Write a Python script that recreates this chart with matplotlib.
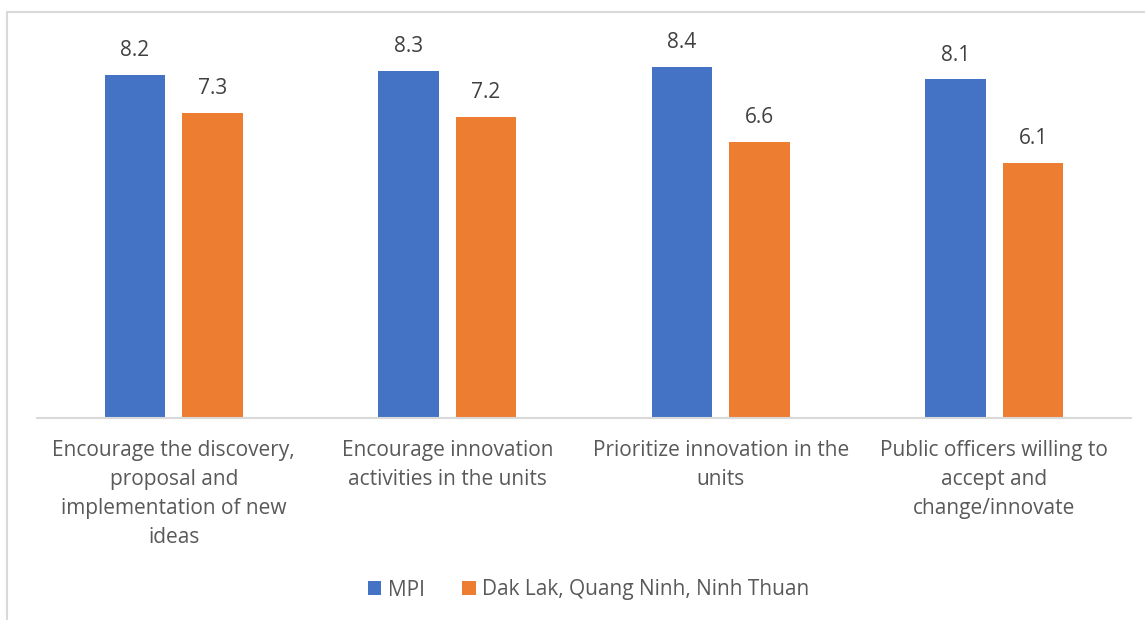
import matplotlib.pyplot as plt
import matplotlib.patches as patches
import numpy as np

# data
categories = ['Encourage the discovery,\nproposal and\nimplementation of new\nideas',
              'Encourage innovation\nactivities in the units',
              'Prioritize innovation in the\nunits',
              'Public officers willing to\naccept and\nchange/innovate']
mpi = [8.2, 8.3, 8.4, 8.1]
provinces = [7.3, 7.2, 6.6, 6.1]
series_names = ['MPI', 'Dak Lak, Quang Ninh, Ninh Thuan']

plt.rcParams['font.family'] = ['Open Sans', 'DejaVu Sans']
txt = '#595959'

fig = plt.figure(figsize=(11.45, 6.2), dpi=100)
ax = fig.add_axes([37/1145, 1-418/620, (1131-37)/1145, 418/620])

x = np.arange(len(categories))
w = 0.222
b1 = ax.bar(x - 0.142, mpi, w, color='#4472C4', label=series_names[0])
b2 = ax.bar(x + 0.142, provinces, w, color='#ED7D31', label=series_names[1])

for bars, vals in ((b1, mpi), (b2, provinces)):
    for r, v in zip(bars, vals):
        ax.annotate(f'{v:.1f}', (r.get_x() + r.get_width()/2, v),
                    xytext=(0, 10), textcoords='offset points',
                    ha='center', va='bottom', fontsize=15, color='#404040')

ax.set_xlim(-0.5, 3.5)
ax.set_ylim(0, 10)
ax.set_yticks([])
ax.set_xticks(x)
ax.set_xticklabels(categories, fontsize=15, color=txt, linespacing=1.5, va='top')
ax.tick_params(axis='x', length=0, pad=16)
for s in ('top', 'right', 'left'):
    ax.spines[s].set_visible(False)
ax.spines['bottom'].set_color('#d9d9d9')
ax.spines['bottom'].set_linewidth(1.5)
ax.patch.set_alpha(0)

leg = fig.legend(handles=[b1, b2], loc='center', bbox_to_anchor=(0.514, 1-590/620),
                 ncol=2, frameon=False, fontsize=15, handlelength=0.65, handleheight=0.65,
                 handletextpad=0.3, columnspacing=1.8)
for t in leg.get_texts():
    t.set_color(txt)

# chart border (cropped at right/bottom)
fig.patches.append(patches.Rectangle((7/1145, -0.5), 2, 1 - 12/620 + 0.5,
                                     transform=fig.transFigure, fill=False,
                                     edgecolor='#d9d9d9', linewidth=1.5, zorder=0))

fig.savefig('out.png', dpi=100)
